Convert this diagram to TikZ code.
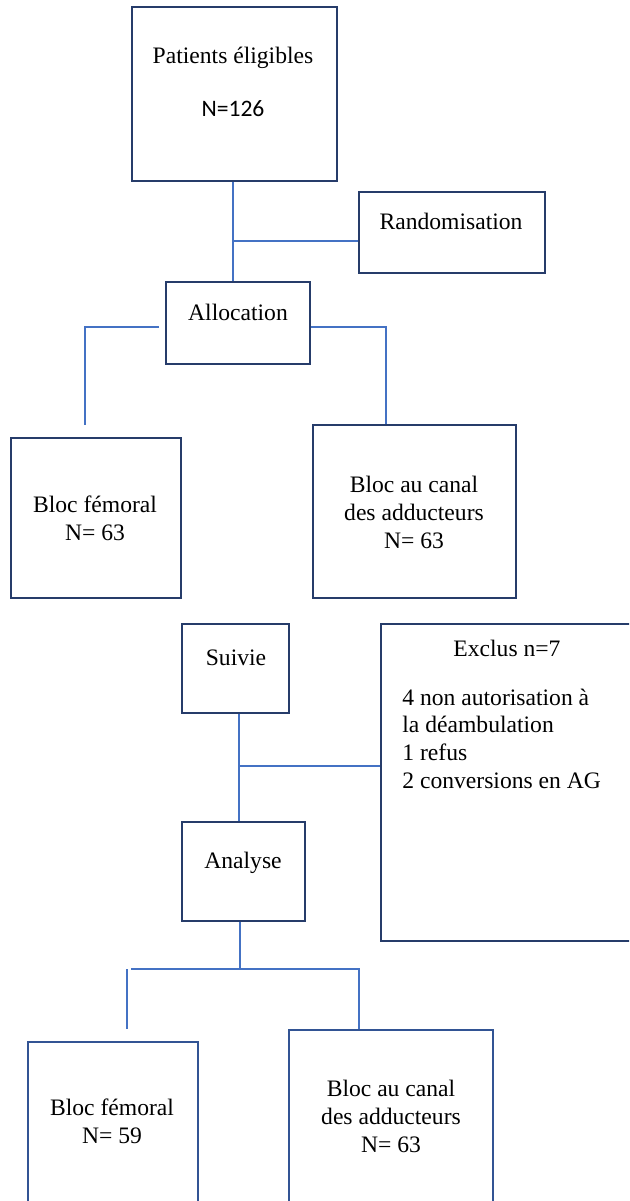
\documentclass[tikz,border=0pt]{standalone}
\usepackage{fontspec}
\setmainfont{Liberation Serif}
\newfontfamily\policeN{Carlito}
\definecolor{bordure}{RGB}{38,60,106}
\definecolor{bordureBas}{RGB}{50,84,148}
\definecolor{trait}{RGB}{68,114,196}
\tikzset{
boite/.style={draw=bordure,line width=1.3pt,rectangle,inner sep=0pt},
boiteBas/.style={boite,draw=bordureBas},
liaison/.style={trait,line width=0.6pt},
texte/.style={anchor=base,align=center,inner sep=0pt,font=\fontsize{11.8}{13.8}\selectfont},
liste/.style={texte,anchor=base west,align=left}
}

\begin{document}
\begin{tikzpicture}[x=0.5pt,y=-0.5pt]
    \useasboundingbox (0,0) rectangle (629,1201);
    \clip (0,0) rectangle (629,1201);

    % boites
    \node[boite,minimum width=102.5pt,minimum height=87pt] (elig) at (234.5,94) {};
    \node[boite,minimum width=93pt,minimum height=40.5pt] (rando) at (452,232.5) {};
    \node[boite,minimum width=72pt,minimum height=41pt] (alloc) at (238,323) {};
    \node[boite,minimum width=85pt,minimum height=80pt] (fem1) at (96,518) {};
    \node[boite,minimum width=101.5pt,minimum height=86.5pt] (add1) at (414.5,511.5) {};
    \node[boite,minimum width=53.5pt,minimum height=44.5pt] (suivie) at (235.5,668.5) {};
    \node[boite,minimum width=126pt,minimum height=158.5pt] (exclus) at (507,782.5) {};
    \node[boite,minimum width=61.5pt,minimum height=49.5pt] (analyse) at (243.5,871.5) {};
    \node[boiteBas,minimum width=85pt,minimum height=80pt] (fem2) at (113,1122) {};
    \node[boiteBas,minimum width=102pt,minimum height=87pt] (add2) at (391,1117) {};

    % textes (base = derniere ligne)
    \node[texte] (eligT) at (233,63) {Patients éligibles};
    \node[texte,font=\policeN\fontsize{11.8}{13.8}\selectfont] (eligN) at (233,116) {N=126};
    \node[texte] (randoT) at (451,229) {Randomisation};
    \node[texte] (allocT) at (238,320) {Allocation};
    \node[texte] (fem1T) at (95,540) {Bloc fémoral\\N= 63};
    \node[texte] (add1T) at (414,548) {Bloc au canal\\des adducteurs\\N= 63};
    \node[texte] (suivieT) at (236,665) {Suivie};
    \node[texte] (exclusT) at (507,656) {Exclus n=7};
    \node[liste] (exclusL) at (402,788) {4 non autorisation à\\la déambulation\\1 refus\\2 conversions en AG};
    \node[texte] (analyseT) at (243,868) {Analyse};
    \node[texte] (fem2T) at (112,1143) {Bloc fémoral\\N= 59};
    \node[texte] (add2T) at (391,1152) {Bloc au canal\\des adducteurs\\N= 63};

    % liaisons
    \coordinate (jRando) at (233,241);
    \draw[liaison] (jRando |- elig.south) -- (jRando |- alloc.north);
    \draw[liaison] (jRando) -- (jRando -| rando.west);

    \coordinate (gDebut) at (159,327);
    \coordinate (gHaut) at (85,327);
    \coordinate (gBas) at (85,425);
    \draw[liaison] (gDebut) -- (gHaut) -- (gBas);
    \coordinate (dHaut) at (386,327);
    \draw[liaison] (dHaut -| alloc.east) -- (dHaut) -- (dHaut |- add1.north);

    \coordinate (jExclus) at (239,766);
    \draw[liaison] (jExclus |- suivie.south) -- (jExclus |- analyse.north);
    \draw[liaison] (jExclus) -- (jExclus -| exclus.west);

    \coordinate (jBas) at (240,969);
    \coordinate (hG) at (131,969);
    \coordinate (hD) at (359,969);
    \draw[liaison] (jBas |- analyse.south) -- (jBas);
    \draw[liaison] (hG) -- (hD) -- (hD |- add2.north);
    \coordinate (vG) at (127,969);
    \coordinate (vGBas) at (127,1029);
    \draw[liaison] (vG) -- (vGBas);
\end{tikzpicture}
\end{document}
